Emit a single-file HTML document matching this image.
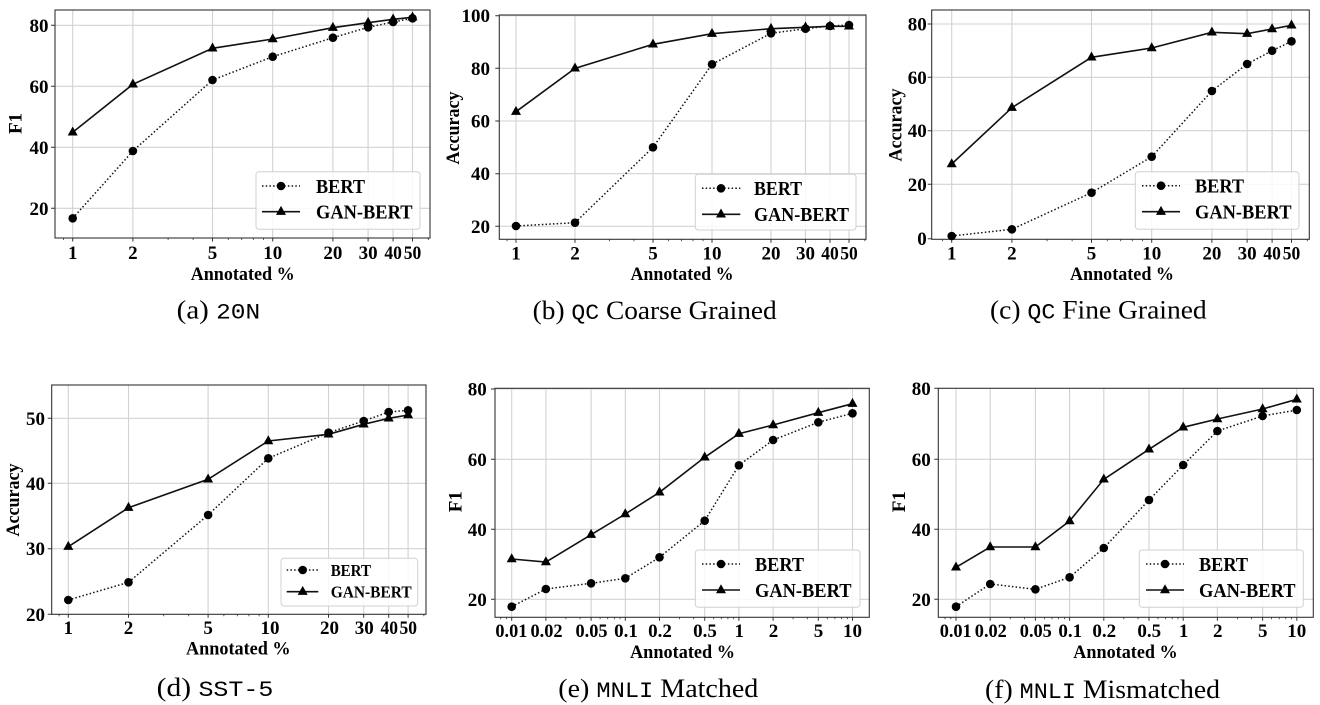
<!DOCTYPE html>
<html><head><meta charset="utf-8"><style>
html,body{margin:0;padding:0;background:#fff;}
svg{display:block;}
.g{stroke:#d2d2d2;stroke-width:1.1;fill:none;}
.sp{stroke:#333;stroke-width:1.1;fill:none;}
.tk{stroke:#333;stroke-width:1;}
.mt{stroke:#333;stroke-width:0.8;}
.b{fill:none;stroke:#111;stroke-width:1.5;stroke-dasharray:1.5 2.2;}
.s{fill:none;stroke:#111;stroke-width:1.6;}
.tl{font-family:"Liberation Serif",serif;font-weight:bold;font-size:19px;fill:#000;}
.al{font-family:"Liberation Serif",serif;font-weight:bold;font-size:19px;fill:#000;}
.lg{font-family:"Liberation Serif",serif;font-weight:bold;font-size:19.5px;fill:#000;}
.lgs{font-family:"Liberation Serif",serif;font-weight:bold;font-size:16.5px;fill:#000;}
.cap{font-family:"Liberation Serif",serif;font-size:26px;fill:#000;}
.mono{font-family:"Liberation Mono",monospace;font-size:22px;}
.lb{fill:#fff;fill-opacity:0.85;stroke:#d0d0d0;stroke-width:1;}
</style></head><body>
<svg width="1320" height="705" viewBox="0 0 1320 705" xmlns="http://www.w3.org/2000/svg">
<defs>
<circle id="d" cx="0" cy="0" r="4.3" fill="#000"/>
<path id="t" d="M0,-5.8 L5,3.2 L-5,3.2 Z" fill="#000"/>
</defs>
<rect width="1320" height="705" fill="#fff"/>

<!-- ===== Panel a ===== -->
<g>
<path class="g" d="M72.7,10V238M132.9,10V238M212.5,10V238M272.7,10V238M332.9,10V238M368.1,10V238M393.1,10V238M412.5,10V238M55,25.3H430M55,86.3H430M55,147.3H430M55,208.3H430"/>
<rect class="sp" x="55" y="10" width="375" height="228"/>
<path class="tk" d="M72.7,238v3.5M132.9,238v3.5M212.5,238v3.5M272.7,238v3.5M332.9,238v3.5M368.1,238v3.5M393.1,238v3.5M412.5,238v3.5M51,25.3h4M51,86.3h4M51,147.3h4M51,208.3h4"/>
<path class="mt" d="M63.5,238v2M168.1,238v2M193.1,238v2M228.3,238v2M241.7,238v2M253.3,238v2M263.5,238v2M428.3,238v2"/>
<polyline class="b" points="72.7,218.3 132.9,151 212.5,80 272.7,56.7 332.9,37.7 368.1,27.3 393.1,22 412.5,18.3"/>
<polyline class="s" points="72.7,132.3 132.9,84.3 212.5,48.3 272.7,39 332.9,27.7 368.1,22.7 393.1,19.3 412.5,17.3"/>
<use href="#d" x="72.7" y="218.3"/><use href="#d" x="132.9" y="151"/><use href="#d" x="212.5" y="80"/><use href="#d" x="272.7" y="56.7"/><use href="#d" x="332.9" y="37.7"/><use href="#d" x="368.1" y="27.3"/><use href="#d" x="393.1" y="22"/><use href="#d" x="412.5" y="18.3"/>
<use href="#t" x="72.7" y="132.3"/><use href="#t" x="132.9" y="84.3"/><use href="#t" x="212.5" y="48.3"/><use href="#t" x="272.7" y="39"/><use href="#t" x="332.9" y="27.7"/><use href="#t" x="368.1" y="22.7"/><use href="#t" x="393.1" y="19.3"/><use href="#t" x="412.5" y="17.3"/>
<rect class="lb" x="256" y="171.7" width="164" height="57.6" rx="3"/>
<line class="b" x1="262" y1="186" x2="300" y2="186"/><use href="#d" x="281" y="186"/>
<line class="s" x1="262" y1="211.7" x2="300" y2="211.7"/><use href="#t" x="281" y="211.7"/>
<text class="lg" x="316" y="192.8" textLength="49" lengthAdjust="spacingAndGlyphs">BERT</text>
<text class="lg" x="316" y="218.5" textLength="96.5" lengthAdjust="spacingAndGlyphs">GAN-BERT</text>
<g class="tl" text-anchor="end"><text x="48.5" y="31.8">80</text><text x="48.5" y="92.8">60</text><text x="48.5" y="153.8">40</text><text x="48.5" y="214.8">20</text></g>
<g class="tl" text-anchor="middle"><text x="72.7" y="259">1</text><text x="132.9" y="259">2</text><text x="212.5" y="259">5</text><text x="272.7" y="259">10</text><text x="332.9" y="259">20</text><text x="368.1" y="259">30</text><text x="393.1" y="259" textLength="17.5" lengthAdjust="spacingAndGlyphs">40</text><text x="412.5" y="259" textLength="17.5" lengthAdjust="spacingAndGlyphs">50</text></g>
<text class="al" x="242.7" y="279.8" text-anchor="middle" textLength="104" lengthAdjust="spacingAndGlyphs">Annotated %</text>
<text class="al" transform="translate(21.5,123.5) rotate(-90)" text-anchor="middle">F1</text>
<text class="cap" x="176.7" y="318.5" textLength="83.5" lengthAdjust="spacingAndGlyphs">(a) <tspan class="mono">20N</tspan></text>
</g>

<!-- ===== Panel b ===== -->
<g>
<path class="g" d="M516,15V239.3M575,15V239.3M653,15V239.3M712,15V239.3M771,15V239.3M805.5,15V239.3M830,15V239.3M849,15V239.3M499.3,15.7H866M499.3,68.3H866M499.3,121H866M499.3,173.7H866M499.3,226.3H866"/>
<rect class="sp" x="499.3" y="15" width="366.7" height="224.3"/>
<path class="tk" d="M516,239.3v3.5M575,239.3v3.5M653,239.3v3.5M712,239.3v3.5M771,239.3v3.5M805.5,239.3v3.5M830,239.3v3.5M849,239.3v3.5M495.3,15.7h4M495.3,68.3h4M495.3,121h4M495.3,173.7h4M495.3,226.3h4"/>
<path class="mt" d="M507,239.3v2M609.5,239.3v2M634,239.3v2M668.5,239.3v2M681.6,239.3v2M693,239.3v2M703,239.3v2M864.9,239.3v2"/>
<polyline class="b" points="516,226 575,222.7 653,147.3 712,64.3 771,33.3 805.5,28.7 830,26 849,25"/>
<polyline class="s" points="516,111.7 575,68.3 653,44.3 712,33.7 771,28.7 805.5,27.3 830,26.3 849,26.3"/>
<use href="#d" x="516" y="226"/><use href="#d" x="575" y="222.7"/><use href="#d" x="653" y="147.3"/><use href="#d" x="712" y="64.3"/><use href="#d" x="771" y="33.3"/><use href="#d" x="805.5" y="28.7"/><use href="#d" x="830" y="26"/><use href="#d" x="849" y="25"/>
<use href="#t" x="516" y="111.7"/><use href="#t" x="575" y="68.3"/><use href="#t" x="653" y="44.3"/><use href="#t" x="712" y="33.7"/><use href="#t" x="771" y="28.7"/><use href="#t" x="805.5" y="27.3"/><use href="#t" x="830" y="26.3"/><use href="#t" x="849" y="26.3"/>
<rect class="lb" x="695.3" y="174.3" width="160.7" height="55.7" rx="3"/>
<line class="b" x1="702" y1="188.3" x2="740.3" y2="188.3"/><use href="#d" x="721" y="188.3"/>
<line class="s" x1="702" y1="214.3" x2="740.3" y2="214.3"/><use href="#t" x="721" y="214.3"/>
<text class="lg" x="754" y="195.1" textLength="48" lengthAdjust="spacingAndGlyphs">BERT</text>
<text class="lg" x="754" y="221.1" textLength="95" lengthAdjust="spacingAndGlyphs">GAN-BERT</text>
<g class="tl" text-anchor="end"><text x="490" y="22.2">100</text><text x="490" y="74.8">80</text><text x="490" y="127.5">60</text><text x="490" y="180.2">40</text><text x="490" y="232.8">20</text></g>
<g class="tl" text-anchor="middle"><text x="516" y="259.5">1</text><text x="575" y="259.5">2</text><text x="653" y="259.5">5</text><text x="712" y="259.5">10</text><text x="771" y="259.5">20</text><text x="805.5" y="259.5">30</text><text x="830" y="259.5" textLength="17.5" lengthAdjust="spacingAndGlyphs">40</text><text x="849" y="259.5" textLength="17.5" lengthAdjust="spacingAndGlyphs">50</text></g>
<text class="al" x="682" y="279.8" text-anchor="middle" textLength="103" lengthAdjust="spacingAndGlyphs">Annotated %</text>
<text class="al" transform="translate(459,128) rotate(-90)" text-anchor="middle" textLength="73" lengthAdjust="spacingAndGlyphs">Accuracy</text>
<text class="cap" x="532.7" y="319" textLength="244" lengthAdjust="spacingAndGlyphs">(b) <tspan class="mono">QC</tspan> Coarse Grained</text>
</g>

<!-- ===== Panel c ===== -->
<g>
<path class="g" d="M951.7,10V239.3M1011.9,10V239.3M1091.5,10V239.3M1151.7,10V239.3M1211.9,10V239.3M1247.1,10V239.3M1272.1,10V239.3M1291.5,10V239.3M931.7,24H1309.3M931.7,77.3H1309.3M931.7,130.7H1309.3M931.7,184.3H1309.3"/>
<rect class="sp" x="931.7" y="10" width="377.6" height="229.3"/>
<path class="tk" d="M951.7,239.3v3.5M1011.9,239.3v3.5M1091.5,239.3v3.5M1151.7,239.3v3.5M1211.9,239.3v3.5M1247.1,239.3v3.5M1272.1,239.3v3.5M1291.5,239.3v3.5M927.7,24h4M927.7,77.3h4M927.7,130.7h4M927.7,184.3h4M927.7,238.7h4"/>
<path class="mt" d="M942.5,239.3v2M1047.1,239.3v2M1072.1,239.3v2M1107.3,239.3v2M1120.7,239.3v2M1132.3,239.3v2M1142.5,239.3v2M1307.3,239.3v2"/>
<polyline class="b" points="951.7,236 1011.9,229.3 1091.5,192.7 1151.7,156.7 1211.9,91 1247.1,64 1272.1,50.7 1291.5,41.3"/>
<polyline class="s" points="951.7,164 1011.9,107.7 1091.5,57.3 1151.7,48 1211.9,32.3 1247.1,33.7 1272.1,29 1291.5,25.3"/>
<use href="#d" x="951.7" y="236"/><use href="#d" x="1011.9" y="229.3"/><use href="#d" x="1091.5" y="192.7"/><use href="#d" x="1151.7" y="156.7"/><use href="#d" x="1211.9" y="91"/><use href="#d" x="1247.1" y="64"/><use href="#d" x="1272.1" y="50.7"/><use href="#d" x="1291.5" y="41.3"/>
<use href="#t" x="951.7" y="164"/><use href="#t" x="1011.9" y="107.7"/><use href="#t" x="1091.5" y="57.3"/><use href="#t" x="1151.7" y="48"/><use href="#t" x="1211.9" y="32.3"/><use href="#t" x="1247.1" y="33.7"/><use href="#t" x="1272.1" y="29"/><use href="#t" x="1291.5" y="25.3"/>
<rect class="lb" x="1135.3" y="171.7" width="163.7" height="57.6" rx="3"/>
<line class="b" x1="1142" y1="185.7" x2="1180" y2="185.7"/><use href="#d" x="1161" y="185.7"/>
<line class="s" x1="1142" y1="211.7" x2="1180" y2="211.7"/><use href="#t" x="1161" y="211.7"/>
<text class="lg" x="1195" y="192.5" textLength="49" lengthAdjust="spacingAndGlyphs">BERT</text>
<text class="lg" x="1195" y="218.5" textLength="96.5" lengthAdjust="spacingAndGlyphs">GAN-BERT</text>
<g class="tl" text-anchor="end"><text x="926.7" y="30.5">80</text><text x="926.7" y="83.8">60</text><text x="926.7" y="137.2">40</text><text x="926.7" y="190.8">20</text><text x="926.7" y="245.2">0</text></g>
<g class="tl" text-anchor="middle"><text x="951.7" y="259.5">1</text><text x="1011.9" y="259.5">2</text><text x="1091.5" y="259.5">5</text><text x="1151.7" y="259.5">10</text><text x="1211.9" y="259.5">20</text><text x="1247.1" y="259.5">30</text><text x="1272.1" y="259.5" textLength="17.5" lengthAdjust="spacingAndGlyphs">40</text><text x="1291.5" y="259.5" textLength="17.5" lengthAdjust="spacingAndGlyphs">50</text></g>
<text class="al" x="1122" y="279.8" text-anchor="middle" textLength="104" lengthAdjust="spacingAndGlyphs">Annotated %</text>
<text class="al" transform="translate(901.5,125) rotate(-90)" text-anchor="middle" textLength="73" lengthAdjust="spacingAndGlyphs">Accuracy</text>
<text class="cap" x="990" y="318.5" textLength="216.7" lengthAdjust="spacingAndGlyphs">(c) <tspan class="mono">QC</tspan> Fine Grained</text>
</g>

<!-- ===== Panel d ===== -->
<g>
<path class="g" d="M68.3,385V614.3M128.5,385V614.3M208.1,385V614.3M268.3,385V614.3M328.5,385V614.3M363.7,385V614.3M388.7,385V614.3M408.1,385V614.3M51.7,418.3H426M51.7,483.3H426M51.7,548.7H426"/>
<rect class="sp" x="51.7" y="385" width="374.3" height="229.3"/>
<path class="tk" d="M68.3,614.3v3.5M128.5,614.3v3.5M208.1,614.3v3.5M268.3,614.3v3.5M328.5,614.3v3.5M363.7,614.3v3.5M388.7,614.3v3.5M408.1,614.3v3.5M47.7,418.3h4M47.7,483.3h4M47.7,548.7h4M47.7,614.3h4"/>
<path class="mt" d="M59.1,614.3v2M163.7,614.3v2M188.7,614.3v2M223.9,614.3v2M237.3,614.3v2M248.9,614.3v2M259.1,614.3v2M423.9,614.3v2"/>
<polyline class="b" points="68.3,600 128.5,582.3 208.1,515 268.3,458.3 328.5,432.7 363.7,421 388.7,412 408.1,410.3"/>
<polyline class="s" points="68.3,546.7 128.5,507.7 208.1,479.3 268.3,441 328.5,434.3 363.7,424.3 388.7,418.3 408.1,415"/>
<use href="#d" x="68.3" y="600"/><use href="#d" x="128.5" y="582.3"/><use href="#d" x="208.1" y="515"/><use href="#d" x="268.3" y="458.3"/><use href="#d" x="328.5" y="432.7"/><use href="#d" x="363.7" y="421"/><use href="#d" x="388.7" y="412"/><use href="#d" x="408.1" y="410.3"/>
<use href="#t" x="68.3" y="546.7"/><use href="#t" x="128.5" y="507.7"/><use href="#t" x="208.1" y="479.3"/><use href="#t" x="268.3" y="441"/><use href="#t" x="328.5" y="434.3"/><use href="#t" x="363.7" y="424.3"/><use href="#t" x="388.7" y="418.3"/><use href="#t" x="408.1" y="415"/>
<rect class="lb" x="281" y="558.3" width="136.7" height="47.7" rx="3"/>
<line class="b" x1="286.7" y1="570" x2="318.3" y2="570"/><use href="#d" x="302.7" y="570"/>
<line class="s" x1="286.7" y1="591.7" x2="318.3" y2="591.7"/><use href="#t" x="302.7" y="591.7"/>
<text class="lgs" x="330.7" y="575.8" textLength="40.3" lengthAdjust="spacingAndGlyphs">BERT</text>
<text class="lgs" x="330.7" y="597.5" textLength="81" lengthAdjust="spacingAndGlyphs">GAN-BERT</text>
<g class="tl" text-anchor="end"><text x="45" y="424.8">50</text><text x="45" y="489.8">40</text><text x="45" y="555.2">30</text><text x="45" y="620.8">20</text></g>
<g class="tl" text-anchor="middle"><text x="68.3" y="633.8">1</text><text x="128.5" y="633.8">2</text><text x="208.1" y="633.8">5</text><text x="270" y="633.8">10</text><text x="329.5" y="633.8">20</text><text x="364.3" y="633.8">30</text><text x="389.3" y="633.8" textLength="17.5" lengthAdjust="spacingAndGlyphs">40</text><text x="408.3" y="633.8" textLength="17.5" lengthAdjust="spacingAndGlyphs">50</text></g>
<text class="al" x="238.3" y="654.5" text-anchor="middle" textLength="104.7" lengthAdjust="spacingAndGlyphs">Annotated %</text>
<text class="al" transform="translate(19,500) rotate(-90)" text-anchor="middle" textLength="73" lengthAdjust="spacingAndGlyphs">Accuracy</text>
<text class="cap" x="156.7" y="696" textLength="116.6" lengthAdjust="spacingAndGlyphs">(d) <tspan class="mono">SST-5</tspan></text>
</g>

<!-- ===== Panel e ===== -->
<g>
<path class="g" d="M511.7,388.3V617.3M545.9,388.3V617.3M591.1,388.3V617.3M625.3,388.3V617.3M659.5,388.3V617.3M704.7,388.3V617.3M738.9,388.3V617.3M773.1,388.3V617.3M818.3,388.3V617.3M852.5,388.3V617.3M495,389H869.3M495,459.3H869.3M495,529.3H869.3M495,599.3H869.3"/>
<rect class="sp" x="495" y="388.3" width="374.3" height="229"/>
<path class="tk" d="M511.7,617.3v3.5M545.9,617.3v3.5M591.1,617.3v3.5M625.3,617.3v3.5M659.5,617.3v3.5M704.7,617.3v3.5M738.9,617.3v3.5M773.1,617.3v3.5M818.3,617.3v3.5M852.5,617.3v3.5M491,389h4M491,459.3h4M491,529.3h4M491,599.3h4"/>
<path class="mt" d="M500.7,617.3v2M506.5,617.3v2M565.9,617.3v2M580.1,617.3v2M600.1,617.3v2M607.7,617.3v2M614.3,617.3v2M620.1,617.3v2M679.5,617.3v2M693.7,617.3v2M713.7,617.3v2M721.3,617.3v2M727.9,617.3v2M733.7,617.3v2M793.1,617.3v2M807.3,617.3v2M827.3,617.3v2M834.9,617.3v2M841.5,617.3v2M847.3,617.3v2"/>
<polyline class="b" points="511.7,606.7 545.9,589 591.1,583.3 625.3,578.3 659.5,557.3 704.7,520.7 738.9,465.3 773.1,440 818.3,422.3 852.5,413.3"/>
<polyline class="s" points="511.7,559 545.9,562 591.1,534.7 625.3,514 659.5,492.3 704.7,457.3 738.9,433.7 773.1,425 818.3,412.7 852.5,403.7"/>
<use href="#d" x="511.7" y="606.7"/><use href="#d" x="545.9" y="589"/><use href="#d" x="591.1" y="583.3"/><use href="#d" x="625.3" y="578.3"/><use href="#d" x="659.5" y="557.3"/><use href="#d" x="704.7" y="520.7"/><use href="#d" x="738.9" y="465.3"/><use href="#d" x="773.1" y="440"/><use href="#d" x="818.3" y="422.3"/><use href="#d" x="852.5" y="413.3"/>
<use href="#t" x="511.7" y="559"/><use href="#t" x="545.9" y="562"/><use href="#t" x="591.1" y="534.7"/><use href="#t" x="625.3" y="514"/><use href="#t" x="659.5" y="492.3"/><use href="#t" x="704.7" y="457.3"/><use href="#t" x="738.9" y="433.7"/><use href="#t" x="773.1" y="425"/><use href="#t" x="818.3" y="412.7"/><use href="#t" x="852.5" y="403.7"/>
<rect class="lb" x="695.3" y="550" width="164.7" height="57.3" rx="3"/>
<line class="b" x1="702" y1="564" x2="740" y2="564"/><use href="#d" x="721" y="564"/>
<line class="s" x1="702" y1="590" x2="740" y2="590"/><use href="#t" x="721" y="590"/>
<text class="lg" x="755" y="570.8" textLength="49" lengthAdjust="spacingAndGlyphs">BERT</text>
<text class="lg" x="755" y="596.8" textLength="96.5" lengthAdjust="spacingAndGlyphs">GAN-BERT</text>
<g class="tl" text-anchor="end"><text x="486.7" y="395.5">80</text><text x="486.7" y="465.8">60</text><text x="486.7" y="535.8">40</text><text x="486.7" y="605.8">20</text></g>
<g class="tl" text-anchor="middle"><text x="511.4" y="637" textLength="32" lengthAdjust="spacingAndGlyphs">0.01</text><text x="546.5" y="637" textLength="32" lengthAdjust="spacingAndGlyphs">0.02</text><text x="591.5" y="637" textLength="32" lengthAdjust="spacingAndGlyphs">0.05</text><text x="626" y="637">0.1</text><text x="660" y="637">0.2</text><text x="705" y="637">0.5</text><text x="739.3" y="637">1</text><text x="773.5" y="637">2</text><text x="818.5" y="637">5</text><text x="852.5" y="637">10</text></g>
<text class="al" x="682.5" y="657.8" text-anchor="middle" textLength="105" lengthAdjust="spacingAndGlyphs">Annotated %</text>
<text class="al" transform="translate(461.5,501.7) rotate(-90)" text-anchor="middle">F1</text>
<text class="cap" x="558.3" y="697" textLength="200" lengthAdjust="spacingAndGlyphs">(e) <tspan class="mono">MNLI</tspan> Matched</text>
</g>

<!-- ===== Panel f ===== -->
<g>
<path class="g" d="M956,388.3V617.3M990.2,388.3V617.3M1035.4,388.3V617.3M1069.6,388.3V617.3M1103.8,388.3V617.3M1149,388.3V617.3M1183.2,388.3V617.3M1217.4,388.3V617.3M1262.6,388.3V617.3M1296.8,388.3V617.3M938.3,459.3H1313.3M938.3,529.3H1313.3M938.3,599.3H1313.3"/>
<rect class="sp" x="938.3" y="388.3" width="375" height="229"/>
<path class="tk" d="M956,617.3v3.5M990.2,617.3v3.5M1035.4,617.3v3.5M1069.6,617.3v3.5M1103.8,617.3v3.5M1149,617.3v3.5M1183.2,617.3v3.5M1217.4,617.3v3.5M1262.6,617.3v3.5M1296.8,617.3v3.5M934.3,388.3h4M934.3,459.3h4M934.3,529.3h4M934.3,599.3h4"/>
<path class="mt" d="M945,617.3v2M950.8,617.3v2M1010.2,617.3v2M1024.4,617.3v2M1044.4,617.3v2M1052,617.3v2M1058.6,617.3v2M1064.4,617.3v2M1123.8,617.3v2M1138,617.3v2M1158,617.3v2M1165.6,617.3v2M1172.2,617.3v2M1178,617.3v2M1237.4,617.3v2M1251.6,617.3v2M1271.6,617.3v2M1279.2,617.3v2M1285.8,617.3v2M1291.6,617.3v2"/>
<polyline class="b" points="956,606.7 990.2,584 1035.4,589.3 1069.6,577.3 1103.8,548 1149,500 1183.2,465 1217.4,431 1262.6,416 1296.8,410"/>
<polyline class="s" points="956,567.3 990.2,547 1035.4,547 1069.6,521 1103.8,479.3 1149,449.3 1183.2,427.3 1217.4,419 1262.6,409 1296.8,399.3"/>
<use href="#d" x="956" y="606.7"/><use href="#d" x="990.2" y="584"/><use href="#d" x="1035.4" y="589.3"/><use href="#d" x="1069.6" y="577.3"/><use href="#d" x="1103.8" y="548"/><use href="#d" x="1149" y="500"/><use href="#d" x="1183.2" y="465"/><use href="#d" x="1217.4" y="431"/><use href="#d" x="1262.6" y="416"/><use href="#d" x="1296.8" y="410"/>
<use href="#t" x="956" y="567.3"/><use href="#t" x="990.2" y="547"/><use href="#t" x="1035.4" y="547"/><use href="#t" x="1069.6" y="521"/><use href="#t" x="1103.8" y="479.3"/><use href="#t" x="1149" y="449.3"/><use href="#t" x="1183.2" y="427.3"/><use href="#t" x="1217.4" y="419"/><use href="#t" x="1262.6" y="409"/><use href="#t" x="1296.8" y="399.3"/>
<rect class="lb" x="1139.3" y="550" width="164" height="57.3" rx="3"/>
<line class="b" x1="1146" y1="564" x2="1184" y2="564"/><use href="#d" x="1165" y="564"/>
<line class="s" x1="1146" y1="590" x2="1184" y2="590"/><use href="#t" x="1165" y="590"/>
<text class="lg" x="1199" y="570.8" textLength="49" lengthAdjust="spacingAndGlyphs">BERT</text>
<text class="lg" x="1199" y="596.8" textLength="96.5" lengthAdjust="spacingAndGlyphs">GAN-BERT</text>
<g class="tl" text-anchor="end"><text x="930.7" y="394.8">80</text><text x="930.7" y="465.8">60</text><text x="930.7" y="535.8">40</text><text x="930.7" y="605.8">20</text></g>
<g class="tl" text-anchor="middle"><text x="955.7" y="637" textLength="32" lengthAdjust="spacingAndGlyphs">0.01</text><text x="990.8" y="637" textLength="32" lengthAdjust="spacingAndGlyphs">0.02</text><text x="1035.8" y="637" textLength="32" lengthAdjust="spacingAndGlyphs">0.05</text><text x="1070.3" y="637">0.1</text><text x="1104.3" y="637">0.2</text><text x="1149.3" y="637">0.5</text><text x="1183.6" y="637">1</text><text x="1217.8" y="637">2</text><text x="1262.8" y="637">5</text><text x="1296.8" y="637">10</text></g>
<text class="al" x="1125.5" y="657.8" text-anchor="middle" textLength="104.4" lengthAdjust="spacingAndGlyphs">Annotated %</text>
<text class="al" transform="translate(905,501.7) rotate(-90)" text-anchor="middle">F1</text>
<text class="cap" x="985" y="698" textLength="235" lengthAdjust="spacingAndGlyphs">(f) <tspan class="mono">MNLI</tspan> Mismatched</text>
</g>
</svg>
</body></html>
